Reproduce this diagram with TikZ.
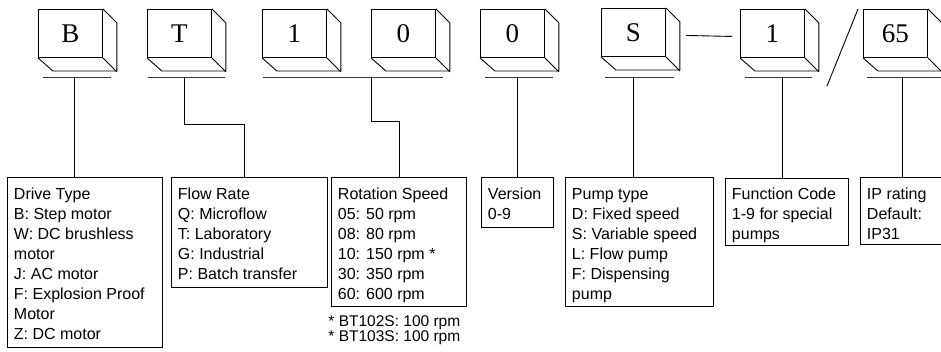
\documentclass[tikz,border=0pt]{standalone}
\usepackage{fontspec}
\setmainfont{Liberation Sans}
\newfontfamily\cubefont{Liberation Serif}
\newcommand\cubeat[4]{%
  \node[cube] (#1) at (#2,#3) {#4};
  \draw (#1.north east) -- ++(14,14) -- ++(0,48) -- ++(-64,0) -- (#1.south west);
  \draw (#1.south east) -- ++(14,14);
}
\begin{document}
\begin{tikzpicture}[x=1pt,y=-1pt,line width=0.9pt,line join=miter,
  cube/.style={draw,minimum width=64pt,minimum height=48pt,inner sep=0pt,anchor=north west,font=\cubefont\fontsize{27}{30}\selectfont},
  infobox/.style={draw,inner sep=0pt,anchor=north west},
  infotext/.style={inner sep=0pt,anchor=base west,font=\fontsize{16}{20}\selectfont},
  notetext/.style={inner sep=0pt,anchor=base west,font=\fontsize{15.5}{15}\selectfont},
  bar/.style={line width=0.8pt,black!80}]
\useasboundingbox (0,0) rectangle (941,351);
\clip (0,0) rectangle (941,351);

% code cubes
\cubeat{cB}{38}{9}{B}
\cubeat{cT}{147}{9}{T}
\cubeat{cOne}{262}{9}{1}
\cubeat{cZero}{371}{9}{0}
\cubeat{cVer}{480}{9}{0}
\cubeat{cS}{601}{8}{S}
\cubeat{cFn}{740}{9}{1}
\cubeat{cIP}{863}{9}{65}

% dash and slash
\draw ([xshift=20pt,yshift=-3pt]cS.east) -- ([xshift=-8pt,yshift=-3pt]cFn.west);
\coordinate (sA) at (858,9);
\coordinate (sB) at (827,86);
\draw (sA) -- (sB);

% bars
\coordinate (bB) at (74,77);
\coordinate (bT) at (184,77);
\coordinate (b10) at (371,77);
\coordinate (b0) at (517,77);
\coordinate (bS) at (633,77);
\coordinate (b1) at (782,77);
\coordinate (b65) at (902,77);
\draw[bar] ([xshift=-31pt]bB) -- ([xshift=37pt]bB);
\draw[bar] ([xshift=-36pt]bT) -- ([xshift=41pt]bT);
\draw[bar] ([xshift=-108pt]b10) -- ([xshift=72pt]b10);
\draw[bar] ([xshift=-32pt]b0) -- ([xshift=36pt]b0);
\draw[bar] ([xshift=-28pt]bS) -- ([xshift=41pt]bS);
\draw[bar] ([xshift=-37pt]b1) -- ([xshift=30pt]b1);
\draw[bar] ([xshift=-35pt]b65) -- ([xshift=40pt]b65);

% info boxes
\node[infobox,minimum width=155pt,minimum height=170pt] (drive) at (7,177) {};
\node[infobox,minimum width=156pt,minimum height=110pt] (flow) at (171,177) {};
\node[infobox,minimum width=135pt,minimum height=129pt] (rot) at (331,177) {};
\node[infobox,minimum width=72pt,minimum height=50pt] (ver) at (481,177) {};
\node[infobox,minimum width=148pt,minimum height=129pt] (pump) at (565,177) {};
\node[infobox,minimum width=123pt,minimum height=67pt] (func) at (725,178) {};
\node[infobox,minimum width=95pt,minimum height=67pt] (ip) at (860,177) {};

\node[infotext] (driveT) at ([xshift=6.5pt,yshift=-22pt]drive.north west)
  {\parbox[t]{200pt}{Drive Type\\B: Step motor\\W: DC brushless\\motor\\J: AC motor\\F: Explosion Proof\\Motor\\Z: DC motor}};
\node[infotext] (flowT) at ([xshift=6.5pt,yshift=-22pt]flow.north west)
  {\parbox[t]{200pt}{Flow Rate\\Q: Microflow\\T: Laboratory\\G: Industrial\\P: Batch transfer}};
\node[infotext] (rotT) at ([xshift=6.5pt,yshift=-22pt]rot.north west)
  {\parbox[t]{200pt}{Rotation Speed\\05: 50 rpm\\08: 80 rpm\\10: 150 rpm *\\30: 350 rpm\\60: 600 rpm}};
\node[infotext] (verT) at ([xshift=6.5pt,yshift=-22pt]ver.north west)
  {\parbox[t]{200pt}{Version\\0-9}};
\node[infotext] (pumpT) at ([xshift=6.5pt,yshift=-22pt]pump.north west)
  {\parbox[t]{200pt}{Pump type\\D: Fixed speed\\S: Variable speed\\L: Flow pump\\F: Dispensing\\pump}};
\node[infotext] (funcT) at ([xshift=6.5pt,yshift=-21pt]func.north west)
  {\parbox[t]{200pt}{Function Code\\1-9 for special\\pumps}};
\node[infotext] (ipT) at ([xshift=6.5pt,yshift=-22pt]ip.north west)
  {\parbox[t]{200pt}{IP rating\\Default:\\IP31}};
\node[notetext] (note) at ([xshift=-3pt,yshift=-20pt]rot.south west)
  {\parbox[t]{200pt}{* BT102S: 100 rpm\\\relax * BT103S: 100 rpm}};

% connectors
\draw (bB) -- (bB |- drive.north);
\draw (bT) -- ++(0,47) -| ([xshift=-5pt]flow.north);
\draw (b10) -- ++(0,44) -| (rot.north);
\draw (b0) -- (b0 |- ver.north);
\draw (bS) -- (bS |- pump.north);
\draw (b1) -- (b1 |- func.north);
\draw (b65) -- (b65 |- ip.north);
\end{tikzpicture}
\end{document}
